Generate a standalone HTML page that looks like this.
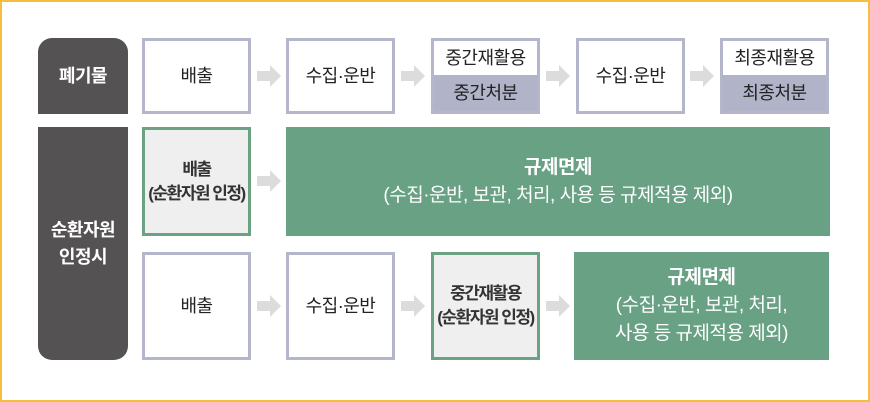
<!DOCTYPE html>
<html><head><meta charset="utf-8"><style>
body{margin:0;width:870px;height:402px;background:#fff;position:relative;overflow:hidden;font-family:"Liberation Sans","Noto Sans CJK KR",sans-serif;}
.frame{position:absolute;left:0;top:0;width:866px;height:398px;border:2px solid #f6be3c;}
.b{position:absolute;box-sizing:border-box;display:flex;align-items:center;justify-content:center;text-align:center;font-size:18px;color:#222;line-height:24px;white-space:nowrap;letter-spacing:-0.5px;}
.w{background:#fff;border:3px solid #b4b7cc;}
.g{background:#efefef;border:3px solid #6aa283;}
.g div{letter-spacing:-1.5px;font-weight:bold;color:#333;font-size:17px;}
.gr{background:#69a185;color:#fff;line-height:28px;font-size:19px;}
.d{background:#545252;color:#fff;font-weight:bold;}
</style></head><body>
<div class="frame"></div>
<div class="b d" style="left:38px;top:38px;width:90px;height:76px;border-radius:14px 14px 0 0">폐기물</div>
<div class="b d" style="left:38px;top:127px;width:90px;height:233px;border-radius:0 0 14px 14px;line-height:27px">순환자원<br>인정시</div>

<div class="b w" style="left:142px;top:38px;width:109px;height:76px">배출</div>
<div class="b w" style="left:286px;top:38px;width:109px;height:76px">수집·운반</div>
<div class="b w" style="left:431px;top:38px;width:109px;height:76px;display:block;padding:0">
<div style="height:34px;line-height:34px">중간재활용</div><div style="height:36px;line-height:36px;background:#b1b3c9">중간처분</div></div>
<div class="b w" style="left:576px;top:38px;width:109px;height:76px">수집·운반</div>
<div class="b w" style="left:720px;top:38px;width:109px;height:76px;display:block;padding:0">
<div style="height:34px;line-height:34px">최종재활용</div><div style="height:36px;line-height:36px;background:#b1b3c9">최종처분</div></div>

<div class="b g" style="left:142px;top:127px;width:109px;height:109px"><div>배출<br>(순환자원 인정)</div></div>
<div class="b gr" style="left:286px;top:127px;width:544px;height:109px"><div><b>규제면제</b><br>(수집·운반, 보관, 처리, 사용 등 규제적용 제외)</div></div>

<div class="b w" style="left:142px;top:252px;width:109px;height:108px">배출</div>
<div class="b w" style="left:286px;top:252px;width:109px;height:108px">수집·운반</div>
<div class="b g" style="left:431px;top:252px;width:109px;height:108px"><div>중간재활용<br>(순환자원 인정)</div></div>
<div class="b gr" style="left:574px;top:252px;width:255px;height:108px"><div><b>규제면제</b><br>(수집·운반, 보관, 처리,<br>사용 등 규제적용 제외)</div></div>

<svg width="870" height="402" style="position:absolute;left:0;top:0">
<g fill="#dcdcdc">
<path id="a" d="M0,-5 H13 V-11 L24,0 L13,11 V5 H0 Z" transform="translate(257,76)"/>
<use href="#a" x="144" y="0"/><use href="#a" x="289" y="0"/><use href="#a" x="433" y="0"/>
<use href="#a" x="0" y="105"/>
<use href="#a" x="0" y="230"/><use href="#a" x="144" y="230"/><use href="#a" x="289" y="230"/>
</g></svg>
</body></html>
